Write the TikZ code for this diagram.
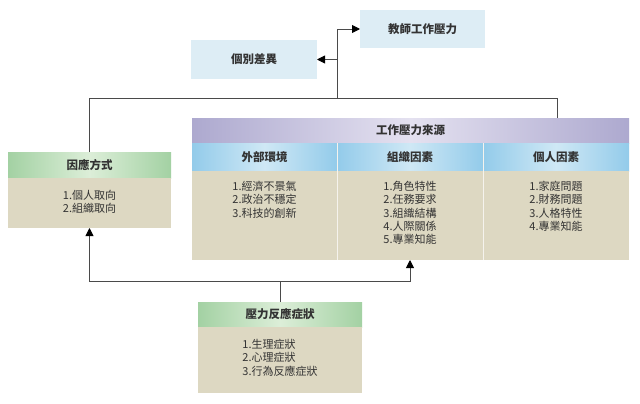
\documentclass[tikz,border=0pt]{standalone}
\usepackage{fontspec}
\setmainfont{Noto Sans CJK TC}
\usetikzlibrary{arrows.meta}
\definecolor{topblue}{HTML}{DDEDF5}
\definecolor{beige}{HTML}{DDD8C2}
\definecolor{purp}{HTML}{ADA9CF}
\definecolor{purpl}{HTML}{E4E1F0}
\definecolor{blu}{HTML}{93CBEA}
\definecolor{blul}{HTML}{CFE8F5}
\definecolor{grn}{HTML}{A3D1A3}
\definecolor{grnl}{HTML}{DCEED8}
\definecolor{linec}{HTML}{4A4A4A}
\definecolor{txt}{HTML}{333333}
\begin{document}
\begin{tikzpicture}[x=1pt,y=-1pt,
  every node/.style={inner sep=0pt, outer sep=0pt},
  topbox/.style={fill=topblue, anchor=north west, font=\fontsize{11.5}{13}\selectfont\bfseries, text=txt},
  greenhead/.style={anchor=north west, left color=grn, right color=grn, middle color=grnl, font=\fontsize{11.5}{13}\selectfont\bfseries, text=txt},
  bluehead/.style={anchor=north west, left color=blu, right color=blu, middle color=blul, font=\fontsize{11.5}{13}\selectfont\bfseries, text=txt},
  body/.style={fill=beige, anchor=north west},
  listtext/.style={align=left, font=\fontsize{11}{13.4}\selectfont, text=txt},
  conn/.style={draw=linec, line width=0.9pt},
  tip/.style={-{Triangle[length=8pt,width=8pt,fill=black,color=black]}}
]
\useasboundingbox (0,0) rectangle (640,404);

% top boxes
\node[topbox, minimum width=125pt, minimum height=38pt] (stress) at (360,10) {教師工作壓力};
\node[topbox, minimum width=126pt, minimum height=39pt] (indiv) at (191,40) {個別差異};

% coping box
\node[greenhead, minimum width=163pt, minimum height=26pt] (copeH) at (8,152) {因應方式};
\node[body, minimum width=163pt, minimum height=50pt] (copeB) at (8,178) {};
\node[listtext] (copeT) at ([yshift=1pt]copeB.center) {1.個人取向\\2.組織取向};

% sources box
\node[anchor=north west, minimum width=437pt, minimum height=25pt, left color=purp, right color=purp, middle color=purpl, font=\fontsize{11.5}{13}\selectfont\bfseries, text=txt] (srcH) at (192,118) {工作壓力來源};
\node[bluehead, minimum width=145pt, minimum height=28pt] (c1H) at (192,143) {外部環境};
\node[bluehead, minimum width=146pt, minimum height=28pt] (c2H) at (337,143) {組織因素};
\node[bluehead, minimum width=146pt, minimum height=28pt] (c3H) at (483,143) {個人因素};
\node[body, minimum width=145pt, minimum height=89pt] (c1B) at (192,171) {};
\node[body, minimum width=146pt, minimum height=89pt] (c2B) at (337,171) {};
\node[body, minimum width=146pt, minimum height=89pt] (c3B) at (483,171) {};
\draw[white!70!beige, line width=0.8pt] (c2H.north west) -- (c2B.south west);
\draw[white!70!beige, line width=0.8pt] (c3H.north west) -- (c3B.south west);
\node[listtext, anchor=north] (c1T) at ([yshift=-10pt]c1B.north) {1.經濟不景氣\\2.政治不穩定\\3.科技的創新};
\node[listtext, anchor=north] (c2T) at ([yshift=-10pt]c2B.north) {1.角色特性\\2.任務要求\\3.組織結構\\4.人際關係\\5.專業知能};
\node[listtext, anchor=north] (c3T) at ([yshift=-10pt]c3B.north) {1.家庭問題\\2.財務問題\\3.人格特性\\4.專業知能};

% response box
\node[greenhead, minimum width=164pt, minimum height=25pt] (respH) at (198,302) {壓力反應症狀};
\node[body, minimum width=164pt, minimum height=66pt] (respB) at (198,327) {};
\node[listtext, anchor=north] (respT) at ([yshift=-12pt]respB.north) {1.生理症狀\\2.心理症狀\\3.行為反應症狀};

% connectors top
\coordinate (jt) at (337,98);
\coordinate (tr) at (557,98);
\draw[conn] (copeH.north) |- (tr) -- (tr |- srcH.north);
\draw[conn, tip] (jt) |- (stress.west);
\draw[conn, tip] (jt |- indiv.east) -- (indiv.east);

% connectors bottom
\coordinate (bj) at (respH.north |- 0,281);
\draw[conn] (respH.north) -- (bj);
\draw[conn, tip] (bj) -| (copeB.south);
\draw[conn, tip] (bj) -| (c2B.south);
\end{tikzpicture}
\end{document}
